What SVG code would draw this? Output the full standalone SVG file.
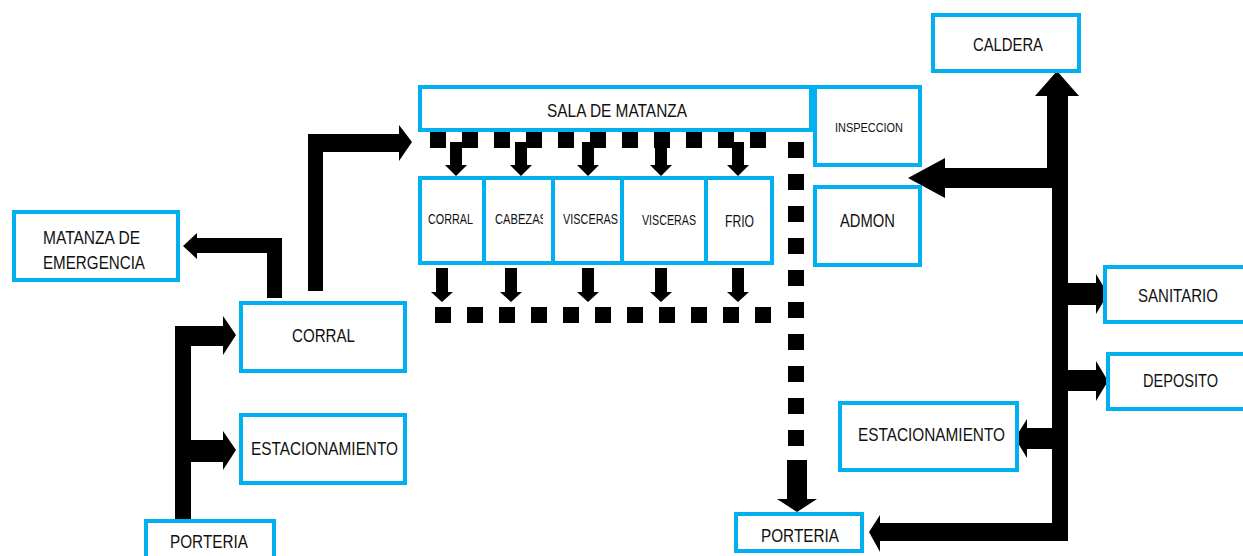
<svg xmlns="http://www.w3.org/2000/svg" width="1243" height="556" viewBox="0 0 1243 556">
<style>
.box{fill:#fff;stroke:#00b0f0;stroke-width:4}
.t{font-family:"Liberation Sans",Arial,sans-serif;fill:#111;font-size:18px}
.s{font-size:15px}
.c{fill:#000;stroke:none}
</style>
<defs>
<clipPath id="cabClip"><rect x="486" y="180" width="57" height="80"/></clipPath>
</defs>
<rect width="1243" height="556" fill="#fff"/>
<g id="connectors" class="c">
  <!-- left portería trunk -->
  <polygon points="175,326 223,326 223,316 236,335 223,355 223,346 191,346 191,440 223,440 223,431 236,450 223,470 223,462 191,462 191,519 175,519"/>
  <!-- corral to matanza de emergencia -->
  <polygon points="282,238 282,298 267,298 267,253 197,253 197,259 183,246 197,233 197,238"/>
  <!-- corral to sala -->
  <polygon points="308,291 308,134 399,134 399,125 412,142 399,161 399,152 323,152 323,291"/>
  <!-- dashes under sala -->
  <g>
    <rect x="430" y="132" width="16" height="16"/><rect x="462" y="132" width="16" height="16"/>
    <rect x="494" y="132" width="16" height="16"/><rect x="526" y="132" width="16" height="16"/>
    <rect x="558" y="132" width="16" height="16"/><rect x="590" y="132" width="16" height="16"/>
    <rect x="622" y="132" width="16" height="16"/><rect x="654" y="132" width="16" height="16"/>
    <rect x="686" y="132" width="16" height="16"/><rect x="718" y="132" width="16" height="16"/>
    <rect x="750" y="132" width="16" height="16"/>
  </g>
  <!-- down arrows into sub rooms -->
  <polygon points="450,142 462,142 462,165 467,165 456,176 445,165 450,165"/>
  <polygon points="515,142 527,142 527,165 532,165 521,176 510,165 515,165"/>
  <polygon points="582,142 594,142 594,165 599,165 588,176 577,165 582,165"/>
  <polygon points="655,142 667,142 667,165 672,165 661,176 650,165 655,165"/>
  <polygon points="732,142 744,142 744,165 749,165 738,176 727,165 732,165"/>
  <!-- down arrows below sub rooms -->
  <polygon points="436,268 448,268 448,292 453,292 442,302 431,292 436,292"/>
  <polygon points="505,268 517,268 517,292 522,292 511,302 500,292 505,292"/>
  <polygon points="582,268 594,268 594,292 599,292 588,302 577,292 582,292"/>
  <polygon points="655,268 667,268 667,292 672,292 661,302 650,292 655,292"/>
  <polygon points="732,268 744,268 744,292 749,292 738,302 727,292 732,292"/>
  <!-- lower dashes -->
  <g>
    <rect x="435" y="307" width="16" height="16"/><rect x="467" y="307" width="16" height="16"/>
    <rect x="499" y="307" width="16" height="16"/><rect x="531" y="307" width="16" height="16"/>
    <rect x="563" y="307" width="16" height="16"/><rect x="595" y="307" width="16" height="16"/>
    <rect x="627" y="307" width="16" height="16"/><rect x="659" y="307" width="16" height="16"/>
    <rect x="691" y="307" width="16" height="16"/><rect x="723" y="307" width="16" height="16"/>
    <rect x="755" y="307" width="16" height="16"/>
  </g>
  <!-- vertical dashes to portería -->
  <g>
    <rect x="788" y="142" width="16" height="16"/><rect x="788" y="174" width="16" height="16"/>
    <rect x="788" y="206" width="16" height="16"/><rect x="788" y="238" width="16" height="16"/>
    <rect x="788" y="270" width="16" height="16"/><rect x="788" y="302" width="16" height="16"/>
    <rect x="788" y="334" width="16" height="16"/><rect x="788" y="366" width="16" height="16"/>
    <rect x="788" y="398" width="16" height="16"/><rect x="788" y="430" width="16" height="16"/>
  </g>
  <polygon points="787,460 807,460 807,499 817,499 797,512 777,499 787,499"/>
  <!-- right spine -->
  <polygon points="1047,96 1035,96 1057,71 1079,96 1068,96 1068,540 1052,540 1052,188 945,188 945,198 908,178 945,158 945,168 1047,168"/>
  <!-- sanitario -->
  <polygon points="1066,283 1096,283 1096,274 1108,294 1096,314 1096,305 1066,305"/>
  <!-- deposito -->
  <polygon points="1066,370 1096,370 1096,361 1108,381 1096,401 1096,391 1066,391"/>
  <!-- estacionamiento right -->
  <polygon points="1054,428 1027,428 1027,419 1015,438 1027,458 1027,449 1054,449"/>
  <!-- porteria right -->
  <polygon points="1068,523 1068,541 880,541 880,552 869,532 880,515 880,523"/>
</g>
<g id="matanza-emergencia"><rect class="box" x="14" y="212" width="164" height="68"/>
  <text class="t" x="43" y="244" textLength="97" lengthAdjust="spacingAndGlyphs">MATANZA DE</text>
  <text class="t" x="43" y="269" textLength="102" lengthAdjust="spacingAndGlyphs">EMERGENCIA</text></g>
<g id="corral"><rect class="box" x="241" y="303" width="164" height="68"/>
  <text class="t" x="292" y="342" textLength="63" lengthAdjust="spacingAndGlyphs">CORRAL</text></g>
<g id="estacionamiento-left"><rect class="box" x="241" y="415" width="164" height="68"/>
  <text class="t" x="251" y="455" textLength="147" lengthAdjust="spacingAndGlyphs">ESTACIONAMIENTO</text></g>
<g id="porteria-left"><rect class="box" x="146" y="521" width="128" height="50"/>
  <text class="t" x="170" y="548" textLength="78" lengthAdjust="spacingAndGlyphs">PORTERIA</text></g>
<g id="sala-matanza"><rect class="box" x="420" y="87" width="391" height="43"/>
  <text class="t" x="547" y="117" textLength="140" lengthAdjust="spacingAndGlyphs">SALA DE MATANZA</text></g>
<g id="sub-corral"><rect class="box" x="420" y="178" width="64" height="85"/>
  <text class="t s" x="428" y="224" textLength="45" lengthAdjust="spacingAndGlyphs">CORRAL</text></g>
<g id="sub-cabezas"><rect class="box" x="484" y="178" width="69" height="85"/>
  <text class="t s" x="495" y="224" textLength="52" lengthAdjust="spacingAndGlyphs" clip-path="url(#cabClip)">CABEZAS</text></g>
<g id="sub-visceras1"><rect class="box" x="553" y="178" width="69" height="85"/>
  <text class="t s" x="563" y="224" textLength="55" lengthAdjust="spacingAndGlyphs">VISCERAS</text></g>
<g id="sub-visceras2"><rect class="box" x="622" y="178" width="84" height="85"/>
  <text class="t s" x="642" y="225" textLength="54" lengthAdjust="spacingAndGlyphs">VISCERAS</text></g>
<g id="sub-frio"><rect class="box" x="706" y="178" width="66" height="85"/>
  <text class="t" style="font-size:16px" x="725" y="227" textLength="29" lengthAdjust="spacingAndGlyphs">FRIO</text></g>
<g id="inspeccion"><rect class="box" x="815" y="87" width="105" height="78"/>
  <text class="t" style="font-size:13px" x="835" y="132" textLength="68" lengthAdjust="spacingAndGlyphs">INSPECCION</text></g>
<g id="admon"><rect class="box" x="815" y="187" width="105" height="78"/>
  <text class="t" style="font-size:19px" x="840" y="227" textLength="55" lengthAdjust="spacingAndGlyphs">ADMON</text></g>
<g id="caldera"><rect class="box" x="933" y="15" width="146" height="56"/>
  <text class="t" x="973" y="51" textLength="70" lengthAdjust="spacingAndGlyphs">CALDERA</text></g>
<g id="sanitario"><rect class="box" x="1105" y="267" width="142" height="55"/>
  <text class="t" x="1138" y="302" textLength="80" lengthAdjust="spacingAndGlyphs">SANITARIO</text></g>
<g id="deposito"><rect class="box" x="1108" y="354" width="142" height="55"/>
  <text class="t" x="1143" y="387" textLength="75" lengthAdjust="spacingAndGlyphs">DEPOSITO</text></g>
<g id="estacionamiento-right"><rect class="box" x="840" y="403" width="177" height="67"/>
  <text class="t" x="858" y="441" textLength="147" lengthAdjust="spacingAndGlyphs">ESTACIONAMIENTO</text></g>
<g id="porteria-right"><rect class="box" x="736" y="514" width="126" height="37"/>
  <text class="t" x="761" y="542" textLength="78" lengthAdjust="spacingAndGlyphs">PORTERIA</text></g>
</svg>
